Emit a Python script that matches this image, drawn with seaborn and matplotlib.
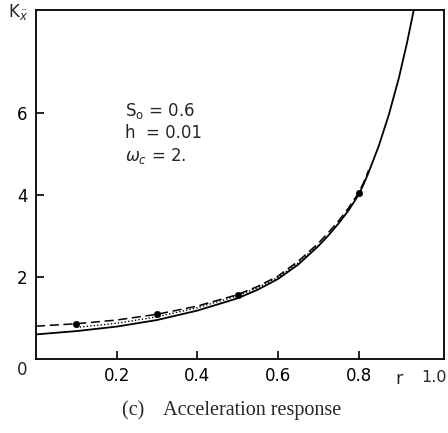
import numpy as np
import pandas as pd
import matplotlib
matplotlib.use("Agg")
import matplotlib.pyplot as plt
import seaborn as sns

# ---- data ----
r_solid = [0.0, 0.1, 0.2, 0.3, 0.4, 0.5, 0.55, 0.6, 0.65, 0.7, 0.725, 0.75, 0.775, 0.8, 0.8125,
           0.825, 0.85, 0.875, 0.9, 0.92, 0.937]
k_solid = [0.60, 0.68, 0.79, 0.95, 1.18, 1.48, 1.69, 1.95, 2.30, 2.75, 3.01, 3.30, 3.62, 4.00, 4.26,
           4.55, 5.19, 5.95, 6.85, 7.70, 8.51]

r_dash = [0.0, 0.1, 0.2, 0.3, 0.4, 0.5, 0.55, 0.6, 0.65, 0.7, 0.725, 0.75, 0.775, 0.8, 0.8125, 0.825]
k_dash = [0.80, 0.86, 0.95, 1.09, 1.29, 1.57, 1.77, 2.02, 2.38, 2.82, 3.08, 3.36, 3.68, 4.05, 4.30, 4.60]

r_dot = [0.1, 0.2, 0.3, 0.4, 0.5, 0.55, 0.6, 0.65, 0.7]
k_dot = [0.77, 0.87, 1.03, 1.25, 1.54, 1.74, 1.99, 2.34, 2.78]

r_pts = [0.1, 0.3, 0.5, 0.8]
k_pts = [0.85, 1.10, 1.55, 4.05]

x_ticks = [0.2, 0.4, 0.6, 0.8]
y_ticks = [2, 4, 6]

sns.set_theme(style="white")
plt.rcParams['font.family'] = ['DejaVu Sans']

fig = plt.figure(figsize=(4.48, 4.33), dpi=100)
ax = fig.add_axes([36/448, 1-359/433, 408/448, 349/433])

sns.lineplot(x=r_solid, y=k_solid, ax=ax, color='black', lw=1.3, estimator=None, sort=False)
sns.lineplot(x=r_dash, y=k_dash, ax=ax, color='black', lw=1.1, estimator=None, sort=False,
             linestyle=(0, (6, 3)))
sns.lineplot(x=r_dot, y=k_dot, ax=ax, color='black', lw=1.0, estimator=None, sort=False,
             linestyle=(0, (1, 1.5)))
sns.scatterplot(x=r_pts, y=k_pts, ax=ax, color='black', s=22, edgecolor='black', zorder=5)

ax.set_xlim(0, 1.012)
ax.set_ylim(0, 8.51)
ax.set_xticks(x_ticks)
ax.set_xticklabels([f"{t:.1f}" for t in x_ticks], fontsize=12)
ax.set_yticks(y_ticks)
ax.set_yticklabels([str(t) for t in y_ticks], fontsize=12)
ax.tick_params(direction='in', length=6, width=1.2, colors='black', pad=6,
               bottom=True, left=True)
for s in ax.spines.values():
    s.set_color('black')
    s.set_linewidth(1.3)

# extra labels
fig.text(22/448, 1-370/433, "0", fontsize=12, ha='center', va='center')
fig.text(447/448, 1-378/433, "1.0", fontsize=11.5, ha='right', va='center')
fig.text(399/448, 1-379/433, "r", fontsize=13, ha='center', va='center')
fig.text(18/448, 1-12/433, r"K$_{\ddot{x}}$", fontsize=12, ha='center', va='center')

ax.text(0.22, 6.05, r"S$_{\rm o}$ = 0.6", fontsize=12, ha='left', va='center')
ax.text(0.22, 5.5, "h  = 0.01", fontsize=12, ha='left', va='center')
ax.text(0.22, 4.95, r"$\omega_c$ = 2.", fontsize=12, ha='left', va='center')

fig.text(232/448, 1-410/433, "(c)    Acceleration response", fontsize=14.5,
         family='Liberation Serif', ha='center', va='center')

fig.savefig("out.png", dpi=100)
